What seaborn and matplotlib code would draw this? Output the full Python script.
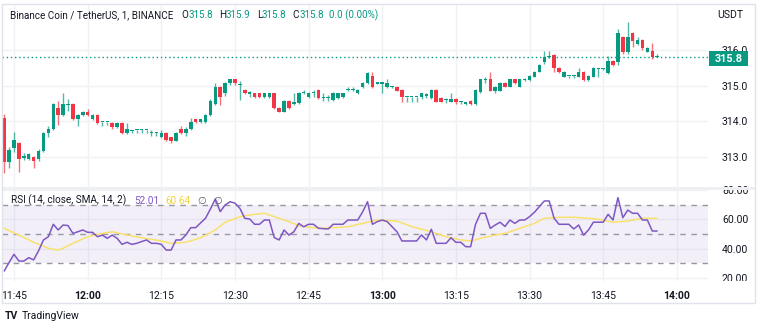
import matplotlib
matplotlib.use("Agg")
import matplotlib.pyplot as plt
from matplotlib.patches import Rectangle
import numpy as np
import pandas as pd
import seaborn as sns

# ---------------- data: BNB/USDT 1-minute candles from 11:43 ----------------
first_bar = "11:43"
opens = [314.10, 312.86, 313.25, 313.40, 312.98, 312.95, 313.00, 312.95, 313.18, 313.68,
         313.78, 314.38, 314.18, 314.47, 314.49, 314.07, 314.18, 314.27, 314.07, 314.18,
         313.97, 313.97, 313.95, 313.84, 313.95, 313.67, 313.74, 313.75, 313.75, 313.75,
         313.67, 313.68, 313.55, 313.68, 313.55, 313.46, 313.78, 313.68, 313.78, 314.06,
         313.98, 313.98, 314.18, 314.49, 314.97, 314.79, 315.08, 315.18, 315.02, 314.88,
         314.78, 314.79, 314.79, 314.67, 314.67, 314.79, 314.37, 314.27, 314.58, 314.50,
         314.52, 314.79, 314.67, 314.79, 314.88, 314.66, 314.66, 314.60, 314.65, 314.67,
         314.87, 314.87, 314.79, 314.96, 315.08, 315.27, 315.06, 315.06, 314.96, 314.96,
         314.96, 314.88, 314.67, 314.67, 314.67, 314.67, 314.70, 314.65, 314.88, 314.65,
         314.59, 314.55, 314.64, 314.55, 314.50, 314.58, 314.48, 314.83, 315.15, 315.18,
         314.86, 314.86, 315.08, 314.97, 315.18, 314.97, 315.17, 315.16, 315.25, 315.39,
         315.65, 315.80, 315.86, 315.49, 315.25, 315.26, 315.26, 315.25, 315.39, 315.16,
         315.25, 315.46, 315.46, 315.36, 315.70, 315.67, 316.37, 315.95, 316.48, 316.17,
         316.28, 315.95, 315.97, 315.80]
highs = [314.20, 313.28, 313.70, 313.42, 313.12, 313.12, 313.02, 313.22, 313.70, 313.88,
         314.52, 314.57, 314.80, 314.63, 314.52, 314.20, 314.30, 314.36, 314.22, 314.20,
         313.98, 313.99, 313.98, 313.97, 313.97, 313.95, 313.76, 313.77, 313.78, 313.77,
         313.76, 313.69, 313.76, 313.70, 313.57, 313.70, 313.87, 313.85, 314.09, 314.08,
         314.08, 314.20, 314.62, 315.08, 315.00, 315.10, 315.20, 315.20, 315.12, 314.90,
         314.86, 314.80, 314.80, 314.80, 314.80, 314.80, 314.40, 314.60, 314.60, 314.79,
         314.81, 314.88, 314.82, 314.88, 314.92, 314.79, 314.75, 314.82, 314.80, 314.80,
         314.97, 314.96, 314.90, 315.10, 315.39, 315.39, 315.09, 315.08, 315.18, 315.00,
         314.98, 314.90, 314.68, 314.68, 314.68, 314.80, 314.80, 314.90, 314.90, 314.67,
         314.65, 314.80, 314.66, 314.56, 314.52, 314.60, 314.90, 315.20, 315.25, 315.39,
         314.99, 315.10, 315.10, 315.20, 315.20, 315.20, 315.22, 315.29, 315.41, 315.62,
         315.98, 315.98, 315.90, 315.52, 315.41, 315.28, 315.30, 315.49, 315.41, 315.29,
         315.51, 315.50, 315.50, 315.82, 315.72, 316.58, 316.40, 316.79, 316.50, 316.37,
         316.30, 316.08, 316.20, 315.90]
lows = [312.55, 312.70, 313.14, 312.58, 312.93, 312.93, 312.70, 312.90, 313.15, 313.57,
        313.75, 313.90, 314.15, 314.30, 314.03, 313.87, 314.15, 314.15, 314.05, 313.93,
        313.88, 313.90, 313.78, 313.82, 313.65, 313.65, 313.67, 313.68, 313.68, 313.68,
        313.58, 313.60, 313.53, 313.46, 313.40, 313.44, 313.66, 313.58, 313.76, 313.96,
        313.96, 313.96, 314.15, 314.47, 314.45, 314.70, 315.02, 315.02, 314.60, 314.76,
        314.69, 314.65, 314.65, 314.65, 314.65, 314.34, 314.25, 314.25, 314.35, 314.46,
        314.50, 314.76, 314.65, 314.67, 314.63, 314.56, 314.58, 314.58, 314.62, 314.65,
        314.84, 314.84, 314.77, 314.94, 315.05, 314.94, 315.04, 314.80, 314.94, 314.93,
        314.84, 314.55, 314.53, 314.55, 314.55, 314.62, 314.66, 314.63, 314.53, 314.53,
        314.52, 314.53, 314.50, 314.49, 314.45, 314.46, 314.46, 314.80, 315.07, 314.84,
        314.80, 314.84, 314.95, 314.95, 315.05, 314.95, 315.14, 315.14, 315.23, 315.37,
        315.62, 315.78, 315.39, 315.36, 315.23, 315.22, 315.22, 315.23, 315.12, 315.12,
        315.23, 315.25, 315.44, 315.33, 315.56, 315.58, 315.89, 315.89, 316.09, 316.15,
        316.00, 315.93, 315.75, 315.80]
closes = [312.86, 313.20, 313.48, 312.95, 313.02, 313.10, 312.88, 313.18, 313.68, 313.78,
          314.49, 314.18, 314.49, 314.50, 314.07, 314.18, 314.27, 314.18, 314.18, 313.95,
          313.98, 313.98, 313.84, 313.95, 313.67, 313.78, 313.75, 313.76, 313.76, 313.76,
          313.69, 313.69, 313.68, 313.48, 313.46, 313.68, 313.68, 313.78, 313.99, 313.98,
          314.06, 314.18, 314.58, 314.97, 314.67, 315.08, 315.18, 315.08, 315.03, 314.79,
          314.80, 314.67, 314.67, 314.79, 314.79, 314.37, 314.27, 314.58, 314.37, 314.52,
          314.79, 314.80, 314.79, 314.80, 314.65, 314.67, 314.67, 314.79, 314.79, 314.79,
          314.88, 314.88, 314.88, 315.08, 315.36, 314.96, 315.07, 315.07, 315.08, 314.97,
          314.86, 314.67, 314.68, 314.68, 314.68, 314.79, 314.76, 314.88, 314.55, 314.55,
          314.60, 314.64, 314.55, 314.56, 314.51, 314.48, 314.88, 315.18, 315.16, 314.86,
          314.97, 315.08, 314.97, 315.18, 315.08, 315.18, 315.18, 315.27, 315.39, 315.58,
          315.80, 315.81, 315.49, 315.39, 315.39, 315.27, 315.27, 315.39, 315.16, 315.27,
          315.49, 315.47, 315.47, 315.70, 315.58, 316.48, 315.95, 316.37, 316.26, 316.28,
          316.05, 316.06, 315.80, 315.80]

# RSI(14) per bar and its 14-bar SMA (sampled bars)
rsi = [24.7, 30.5, 36.1, 31.5, 31.5, 33.8, 32.3, 38.5, 45.9, 48.1,
       56.6, 52.7, 56.1, 55.7, 50.4, 51.5, 52.7, 51.1, 51.1, 48.1,
       49.2, 47.0, 49.2, 47.0, 42.9, 44.3, 42.9, 43.6, 44.8, 45.9,
       43.6, 43.6, 42.9, 39.0, 39.0, 45.9, 45.9, 49.2, 54.3, 54.3,
       57.5, 60.7, 67.0, 73.9, 65.2, 69.8, 72.0, 71.0, 67.5, 60.7,
       60.2, 56.6, 56.6, 59.5, 59.5, 47.5, 45.9, 52.7, 49.2, 51.5,
       57.2, 54.9, 56.6, 56.6, 53.9, 53.6, 53.4, 56.6, 56.6, 56.6,
       59.5, 59.5, 59.5, 65.0, 72.0, 56.6, 58.4, 59.5, 58.4, 55.0,
       51.5, 45.2, 45.2, 45.2, 45.2, 49.3, 45.9, 53.2, 43.6, 43.6,
       43.6, 47.4, 44.3, 44.3, 41.3, 41.3, 56.6, 64.1, 64.1, 53.8,
       56.1, 58.0, 55.1, 59.5, 57.2, 59.5, 59.5, 61.8, 64.8, 68.6,
       72.5, 72.5, 60.7, 56.6, 56.6, 56.6, 53.4, 56.1, 49.2, 52.7,
       58.0, 58.0, 58.0, 63.4, 59.5, 74.8, 61.1, 66.3, 64.1, 64.1,
       59.5, 59.5, 52.0, 52.01]
sma_bar = [0, 3, 6, 9, 11, 12, 14, 17, 20, 22, 25, 28, 32, 34, 37, 40, 43, 45, 48, 51,
           53, 55, 58, 60, 64, 67, 70, 74, 76, 80, 83, 87, 90, 93, 95, 97, 100, 102, 105,
           108, 110, 113, 116, 119, 121, 124, 127, 130, 133]
sma_rsi = [53.8, 49.3, 44.3, 40.2, 39.0, 40.2, 43.6, 48.1, 50.4, 51.5, 49.3, 47.4, 45.2,
           43.6, 44.3, 47.4, 52.7, 58.0, 61.8, 63.4, 64.1, 61.8, 58.4, 55.6, 53.8, 54.3,
           54.9, 58.0, 59.5, 58.8, 55.0, 51.5, 48.1, 45.9, 45.2, 47.0, 49.3, 50.4, 53.8,
           57.2, 60.7, 61.4, 61.4, 60.7, 60.0, 58.0, 58.8, 60.7, 60.64]

time_labels = ["11:45", "12:00", "12:15", "12:30", "12:45", "13:00", "13:15", "13:30", "13:45", "14:00"]
price_ticks = [313.0, 314.0, 315.0, 316.0]
rsi_ticks = [20, 40, 60, 80]
rsi_levels = [70, 50, 30]
title = "Binance Coin / TetherUS, 1, BINANCE"
currency = "USDT"
rsi_title = "RSI (14, close, SMA, 14, 2)"

# ---------------- frame ----------------
UP, DOWN = "#089981", "#f23645"
TXT = "#131722"
GRID = "#f0f1f4"
PURPLE, YELLOW = "#7e57c2", "#f8e16c"

times = pd.date_range(f"2024-01-01 {first_bar}", periods=len(closes), freq="min")
origin = pd.Timestamp(f"2024-01-01 {time_labels[0]}")
df = pd.DataFrame({"open": opens, "high": highs, "low": lows, "close": closes, "rsi": rsi},
                  index=times)
df["t"] = (df.index - origin) / pd.Timedelta(minutes=1)
df["up"] = df["close"] >= df["open"]
tick_pos = [(pd.Timestamp(f"2024-01-01 {s}") - origin) / pd.Timedelta(minutes=1) for s in time_labels]
sma_df = pd.DataFrame({"t": df["t"].iloc[sma_bar].values, "sma": sma_rsi})

sns.set_theme(style="white")
plt.rcParams["font.family"] = ["Roboto", "DejaVu Sans"]

W, H = 760, 326
fig = plt.figure(figsize=(W / 100, H / 100), dpi=100)
fig.patch.set_facecolor("white")


def box(x0, y0, x1, y1):
    return [x0 / W, 1 - y1 / H, (x1 - x0) / W, (y1 - y0) / H]


def fx(x):
    return x / W


def fy(y):
    return 1 - y / H


ax = fig.add_axes(box(2, 4, 708, 188))
axr = fig.add_axes(box(2, 189, 708, 281))

px_per_min = 4.91
x0_px = 14
xlim = ((2 - x0_px) / px_per_min, (708 - x0_px) / px_per_min)

for a in (ax, axr):
    a.set_xlim(*xlim)
    for s in a.spines.values():
        s.set_visible(False)
    a.set_facecolor("white")
    a.set_axisbelow(True)
    a.grid(True, color=GRID, lw=1)
    a.set_xticks(tick_pos)
    a.yaxis.tick_right()
    a.tick_params(axis="both", length=0, labelsize=7.6, labelcolor=TXT)
    a.tick_params(axis="y", pad=10)
    a.set_xlabel("")
    a.set_ylabel("")

# ---- price pane ----
ax.set_ylim(312.134, 317.288)
ax.set_yticks(price_ticks)
ax.set_yticklabels([f"{v:.1f}" for v in price_ticks])
ax.tick_params(axis="x", labelbottom=False)

min_body = 0.03
colors = np.where(df["up"], UP, DOWN)
body_lo = np.minimum(df["open"], df["close"])
body_h = np.maximum((df["close"] - df["open"]).abs(), min_body)
ax.vlines(df["t"], df["low"], df["high"], colors=colors, lw=1, alpha=0.7, zorder=2)
ax.bar(df["t"], body_h, bottom=body_lo, width=0.72, color=colors, lw=0, zorder=3)

last = df["close"].iloc[-1]
ax.axhline(last, color=UP, lw=1, ls=(0, (1, 2)), zorder=4)

# ---- RSI pane ----
axr.set_ylim(17.88, 80.68)
axr.set_yticks(rsi_ticks)
axr.set_yticklabels([f"{v:.2f}" for v in rsi_ticks])
axr.axhspan(min(rsi_levels), max(rsi_levels), color=PURPLE, alpha=0.09, lw=0, zorder=1)
for lv in rsi_levels:
    axr.axhline(lv, color="#9598a1", lw=1, ls=(0, (4, 4)), zorder=2)
sns.lineplot(data=sma_df, x="t", y="sma", ax=axr, color=YELLOW, lw=1.1, zorder=3)
sns.lineplot(data=df, x="t", y="rsi", ax=axr, color=PURPLE, lw=1.1, zorder=4)
axr.set_xlabel("")
axr.set_ylabel("")
axr.set_xticks(tick_pos)
axr.set_xticklabels(time_labels)
axr.tick_params(axis="x", pad=7)
for lab in axr.get_xticklabels():
    if lab.get_text().endswith(":00"):
        lab.set_fontweight("bold")

# ---- chrome: border, pane separator, axis covers ----
fig.add_artist(Rectangle((fx(2), fy(190)), fx(753), 3 / H, transform=fig.transFigure,
                         color="#eeeff2", lw=0, zorder=6))
fig.add_artist(Rectangle((fx(708), fy(302)), fx(47), 21 / H, transform=fig.transFigure,
                         color="white", lw=0, zorder=6))
fig.add_artist(Rectangle((fx(2), fy(303)), fx(753), 299 / H, transform=fig.transFigure,
                         fill=False, edgecolor="#e0e3eb", lw=1, zorder=7))

# last-price tag
fig.add_artist(Rectangle((fx(709), fy(66)), fx(39), 15 / H, transform=fig.transFigure,
                         color=UP, lw=0, zorder=8))
fig.text(fx(728.5), fy(58.5), f"{last:.1f}", color="white", fontsize=7.8, fontweight="bold",
         ha="center", va="center", zorder=9)
fig.text(fx(717), fy(15.5), currency, color=TXT, fontsize=7.6, ha="left", va="center")

renderer = fig.canvas.get_renderer()


def text_row(pieces, x_start, y, size):
    """Lay out (text, colour, gap-before) pieces left to right on one baseline."""
    x = x_start
    for s, col, gap in pieces:
        x += gap
        t = fig.text(fx(x), fy(y), s, color=col, fontsize=size, ha="left", va="center",
                     family=["Roboto", "DejaVu Sans"], zorder=8)
        x += t.get_window_extent(renderer).width


# header legend
o, h, l, c = df[["open", "high", "low", "close"]].iloc[-1]
chg = c - df["close"].iloc[-2]
pct = chg / df["close"].iloc[-2] * 100
text_row([(title, TXT, 0), ("O", TXT, 8), (f"{o:.1f}", UP, 0), ("H", TXT, 6),
          (f"{h:.1f}", UP, 0), ("L", TXT, 6), (f"{l:.1f}", UP, 0), ("C", TXT, 6),
          (f"{c:.1f}", UP, 0), (f"{chg:.1f} ({pct:.2f}%)", UP, 5)], 10, 15.5, 7.1)

text_row([(rsi_title, TXT, 0), (f"{rsi[-1]:.2f}", PURPLE, 8),
          (f"{sma_rsi[-1]:.2f}", "#f2d23a", 6), ("\u2205", "#5d606b", 7),
          ("\u2205", "#5d606b", 7)], 11, 200.5, 7.2)

# footer brand
fig.text(fx(5), fy(316), "TV", color=TXT, fontsize=7.5, fontweight="bold", ha="left", va="center")
fig.text(fx(22), fy(316), "TradingView", color=TXT, fontsize=7.5, ha="left", va="center")

fig.savefig("out.png", dpi=100, facecolor="white")
